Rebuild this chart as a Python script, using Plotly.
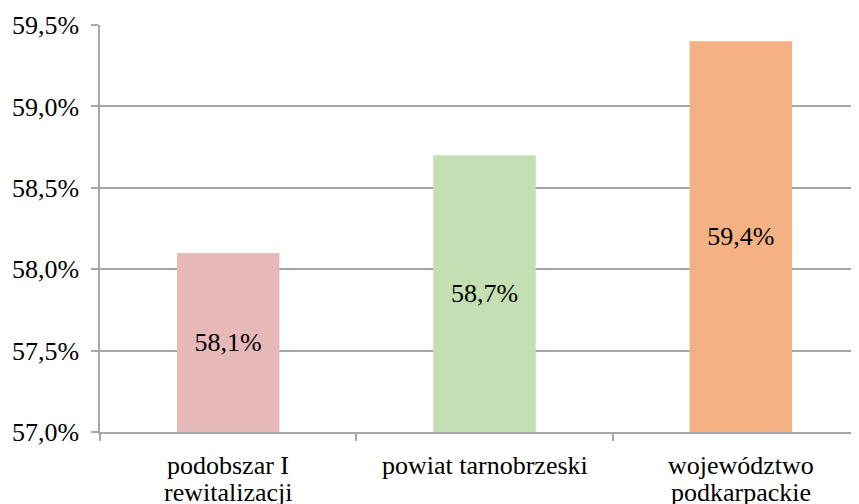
import plotly.graph_objects as go

categories = ["podobszar I<br>rewitalizacji", "powiat tarnobrzeski", "województwo<br>podkarpackie"]
values = [58.1, 58.7, 59.4]
labels = ["58,1%", "58,7%", "59,4%"]
colors = ["#E6B9B8", "#C4DFB3", "#F4B183"]
axis_min = 57.0

FONT = "Liberation Serif"
GRAY = "#A6A6A6"

fig = go.Figure(go.Bar(
    x=categories, y=[v - axis_min for v in values], base=axis_min, text=labels,
    marker=dict(color=colors, line=dict(width=0)),
    width=0.4,
    textposition="inside", insidetextanchor="middle",
    textfont=dict(family=FONT, size=26, color="black"),
    insidetextfont=dict(family=FONT, size=26, color="black"),
    textangle=0,
    hoverinfo="skip",
))

# category labels: one annotation per line for tighter line spacing
for cat in categories:
    for i, line in enumerate(cat.split("<br>")):
        fig.add_annotation(
            x=cat, y=0, xref="x", yref="paper",
            text=line, showarrow=False,
            xanchor="center", yanchor="middle",
            yshift=-33 - 27 * i,
            font=dict(family=FONT, size=26, color="black"),
        )

# page body has an 8px margin, so the figure is offset by 8px
fig.update_layout(
    width=851, height=496,
    margin=dict(l=92, r=0, t=17, b=72),
    paper_bgcolor="white", plot_bgcolor="white",
    separators=",.",
    showlegend=False,
    font=dict(family=FONT, size=26, color="black"),
)
fig.update_xaxes(
    type="category", categoryorder="array", categoryarray=categories,
    range=[-0.5, 2.5 - 10 / 256],
    automargin=False,
    showline=True, linecolor=GRAY, linewidth=1.5,
    ticks="outside", tickson="boundaries", ticklen=7, tickcolor=GRAY, tickwidth=1.5,
    showgrid=False, showticklabels=False,
)
fig.update_yaxes(
    range=[axis_min, 59.5], dtick=0.5, tick0=axis_min,
    tickformat=".1f", ticksuffix="%",
    automargin=False,
    showgrid=True, gridcolor=GRAY, gridwidth=1.5,
    showline=True, linecolor=GRAY, linewidth=1.5,
    ticks="outside", ticklen=7, tickcolor=GRAY, tickwidth=1.5,
    zeroline=False,
    tickfont=dict(family=FONT, size=26, color="black"),
    ticklabelstandoff=7,
)

fig.write_html("out.html")
